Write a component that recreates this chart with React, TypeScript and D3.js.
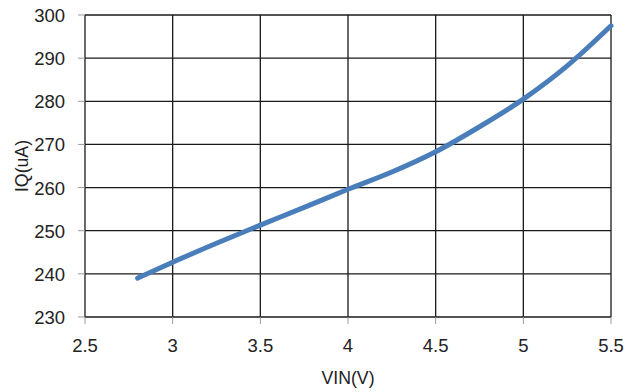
import React, { useEffect, useRef } from 'react';
import * as d3 from 'd3';

// supply voltage (V) and quiescent current (uA)
const vin = [2.8, 3, 3.25, 3.5, 3.75, 4, 4.25, 4.5, 4.75, 5, 5.25, 5.5];
const iq = [239, 242.7, 247.1, 251.3, 255.4, 259.6, 263.6, 268.3, 274.1, 280.5, 288.2, 297.5];

const xTicks = [2.5, 3, 3.5, 4, 4.5, 5, 5.5];
const yTicks = [230, 240, 250, 260, 270, 280, 290, 300];

export default function App() {
  const ref = useRef<SVGSVGElement | null>(null);

  useEffect(() => {
    if (!ref.current) return;
    const svg = d3.select(ref.current);
    svg.selectAll('*').remove();

    const width = 627;
    const height = 392;
    const margin = { top: 15, right: 16, bottom: 75, left: 85 };

    const x = d3.scaleLinear().domain([2.5, 5.5]).range([margin.left, width - margin.right]);
    const y = d3.scaleLinear().domain([230, 300]).range([height - margin.bottom, margin.top]);

    svg.attr('width', width).attr('height', height);

    const font = 'Liberation Sans, Arial, sans-serif';

    // grid
    svg.append('g')
      .selectAll('line')
      .data(xTicks)
      .enter()
      .append('line')
      .attr('x1', (d) => x(d))
      .attr('x2', (d) => x(d))
      .attr('y1', y(300))
      .attr('y2', y(230))
      .attr('stroke', '#1a1a1a')
      .attr('stroke-width', 1.3);

    svg.append('g')
      .selectAll('line')
      .data(yTicks)
      .enter()
      .append('line')
      .attr('x1', x(2.5))
      .attr('x2', x(5.5))
      .attr('y1', (d) => y(d))
      .attr('y2', (d) => y(d))
      .attr('stroke', '#1a1a1a')
      .attr('stroke-width', 1.3);

    // outer tick marks
    svg.append('g')
      .selectAll('line')
      .data(yTicks)
      .enter()
      .append('line')
      .attr('x1', x(2.5) - 7)
      .attr('x2', x(2.5))
      .attr('y1', (d) => y(d))
      .attr('y2', (d) => y(d))
      .attr('stroke', '#999')
      .attr('stroke-width', 1);

    svg.append('g')
      .selectAll('line')
      .data(xTicks)
      .enter()
      .append('line')
      .attr('x1', (d) => x(d))
      .attr('x2', (d) => x(d))
      .attr('y1', y(230))
      .attr('y2', y(230) + 7)
      .attr('stroke', '#999')
      .attr('stroke-width', 1);

    // tick labels
    svg.append('g')
      .selectAll('text')
      .data(yTicks)
      .enter()
      .append('text')
      .attr('x', 65)
      .attr('y', (d) => y(d) + 7)
      .attr('text-anchor', 'end')
      .style('font-family', font)
      .style('font-size', '18.5px')
      .attr('fill', '#222')
      .text((d) => d);

    svg.append('g')
      .selectAll('text')
      .data(xTicks)
      .enter()
      .append('text')
      .attr('x', (d) => x(d))
      .attr('y', 352)
      .attr('text-anchor', 'middle')
      .style('font-family', font)
      .style('font-size', '18.5px')
      .attr('fill', '#222')
      .text((d) => d);

    // curve
    const line = d3.line<number>()
      .x((d, i) => x(vin[i]))
      .y((d) => y(d))
      .curve(d3.curveMonotoneX);

    svg.append('path')
      .datum(iq)
      .attr('d', line)
      .attr('fill', 'none')
      .attr('stroke', '#4a7ebb')
      .attr('stroke-width', 5)
      .attr('stroke-linecap', 'round');

    // axis titles
    svg.append('text')
      .attr('x', 348)
      .attr('y', 384)
      .attr('text-anchor', 'middle')
      .style('font-family', font)
      .style('font-size', '17.7px')
      .attr('fill', '#222')
      .text('VIN(V)');

    svg.append('text')
      .attr('transform', 'translate(28,166) rotate(-90)')
      .attr('text-anchor', 'middle')
      .style('font-family', font)
      .style('font-size', '17.7px')
      .attr('fill', '#222')
      .text('IQ(uA)');
  }, []);

  return <svg ref={ref} style={{ position: 'absolute', left: 0, top: 0 }} />;
}
